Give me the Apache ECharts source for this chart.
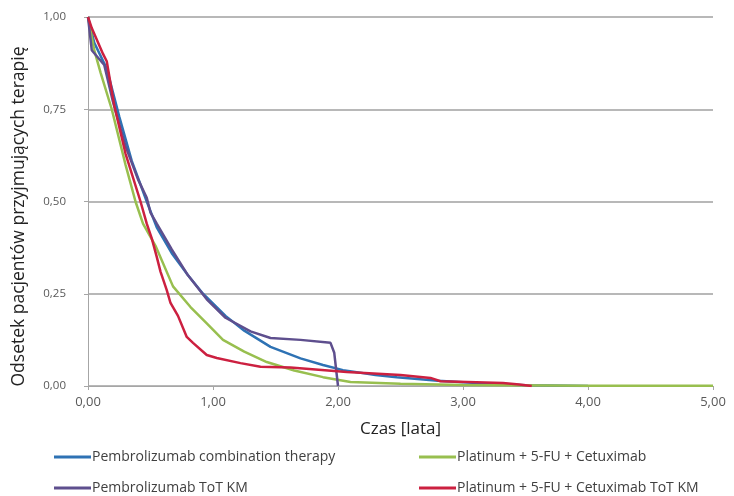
<!DOCTYPE html>
<html>
<head>
<meta charset="utf-8">
<script src="https://cdn.jsdelivr.net/npm/echarts@6/dist/echarts.min.js"></script>
<style>
  html, body { margin: 0; padding: 0; background: #fff; }
  #chart { width: 734px; height: 496px; }
</style>
</head>
<body>
<div id="chart"></div>
<script>
// dane (czas w latach, odsetek pacjentów)
var seriesNames = [
  'Pembrolizumab combination therapy',
  'Platinum + 5-FU + Cetuximab',
  'Pembrolizumab ToT KM',
  'Platinum + 5-FU + Cetuximab ToT KM'
];

var pembroX = [0, 0.05, 0.15, 0.25, 0.35, 0.47, 0.55, 0.67, 0.8, 0.92, 1.1, 1.25, 1.46, 1.7, 1.88, 2.04, 2.3, 2.47, 2.8, 3.0, 3.3, 3.5, 4.0];
var pembroY = [1, 0.93, 0.86, 0.73, 0.61, 0.50, 0.43, 0.36, 0.30, 0.25, 0.19, 0.15, 0.106, 0.075, 0.057, 0.043, 0.03, 0.024, 0.014, 0.01, 0.005, 0.002, 0];

var platX = [0, 0.05, 0.1, 0.19, 0.3, 0.38, 0.44, 0.54, 0.68, 0.82, 0.95, 1.08, 1.25, 1.43, 1.65, 1.88, 2.1, 2.5, 3.0, 4.0, 5.0];
var platY = [1, 0.91, 0.85, 0.75, 0.60, 0.50, 0.44, 0.38, 0.27, 0.214, 0.17, 0.125, 0.093, 0.065, 0.042, 0.024, 0.011, 0.006, 0.003, 0.001, 0.001];

var pembroKmX = [0, 0.03, 0.13, 0.2, 0.3, 0.4, 0.47, 0.5, 0.55, 0.67, 0.8, 0.95, 1.1, 1.3, 1.46, 1.7, 1.94, 1.97, 2.0];
var pembroKmY = [1, 0.91, 0.87, 0.77, 0.65, 0.56, 0.51, 0.47, 0.44, 0.37, 0.30, 0.235, 0.185, 0.148, 0.13, 0.125, 0.117, 0.09, 0];

var platKmX = [0, 0.03, 0.12, 0.15, 0.21, 0.3, 0.42, 0.47, 0.51, 0.55, 0.58, 0.63, 0.66, 0.72, 0.79, 0.84, 0.95, 1.03, 1.22, 1.38, 1.62, 2.07, 2.5, 2.74, 2.82, 3.32, 3.45, 3.55];
var platKmY = [1, 0.97, 0.90, 0.88, 0.76, 0.63, 0.50, 0.44, 0.40, 0.35, 0.31, 0.26, 0.225, 0.19, 0.133, 0.117, 0.084, 0.076, 0.062, 0.052, 0.05, 0.038, 0.03, 0.022, 0.013, 0.008, 0.004, 0];

var xTicks = [0, 1, 2, 3, 4, 5];
var yTicks = [0, 0.25, 0.5, 0.75, 1];

function pairs(xs, ys) {
  return xs.map(function (x, i) { return [x, ys[i]]; });
}
function fmt(v) {
  return v.toFixed(2).replace('.', ',');
}

var chart = echarts.init(document.getElementById('chart'));

var colors = ['#2e72b4', '#98bf4f', '#5e4f8e', '#cc2040'];
var lineData = [pairs(pembroX, pembroY), pairs(platX, platY), pairs(pembroKmX, pembroKmY), pairs(platKmX, platKmY)];

var legendPos = [
  { left: 52, top: 448 },
  { left: 417, top: 448 },
  { left: 52, top: 479 },
  { left: 417, top: 479 }
];

var option = {
  animation: false,
  backgroundColor: '#fff',
  grid: { left: 88, right: 21, top: 17, bottom: 110 },
  // każdy wpis legendy osobno, żeby ustawić dwie kolumny
  legend: seriesNames.map(function (n, i) {
    return {
      data: [n],
      left: legendPos[i].left,
      top: legendPos[i].top,
      padding: 2,
      icon: 'rect',
      itemWidth: 37,
      itemHeight: 3,
      textStyle: { fontFamily: 'Open Sans', fontSize: 14, color: '#404040', padding: [0, 0, 0, -4] }
    };
  }),
  xAxis: {
    type: 'value',
    min: 0, max: 5, interval: 1,
    name: 'Czas [lata]',
    nameLocation: 'middle',
    nameGap: 35,
    nameTextStyle: { fontFamily: 'Open Sans', fontSize: 17, color: '#222' },
    axisLine: { show: true, lineStyle: { color: '#a6a6a6', width: 1 } },
    axisTick: { show: true, length: 4, lineStyle: { color: '#a6a6a6' } },
    axisLabel: { formatter: fmt, fontFamily: 'Open Sans', fontSize: 13, color: '#595959', margin: 10 },
    splitLine: { show: false }
  },
  yAxis: {
    type: 'value',
    min: 0, max: 1, interval: 0.25,
    name: 'Odsetek pacjentów przyjmujących terapię',
    nameLocation: 'middle',
    nameGap: 60,
    nameTextStyle: { fontFamily: 'Open Sans', fontSize: 17.5, color: '#222', padding: [0, 30, 0, 0] },
    axisLine: { show: true, lineStyle: { color: '#a6a6a6', width: 1 } },
    axisTick: { show: true, length: 4, lineStyle: { color: '#a6a6a6' } },
    axisLabel: { formatter: fmt, fontFamily: 'Open Sans', fontSize: 11.5, color: '#595959', margin: 22 },
    splitLine: { show: true, lineStyle: { color: '#b8b8b8', width: 2 } }
  },
  series: seriesNames.map(function (n, i) {
    return {
      name: n,
      type: 'line',
      data: lineData[i],
      showSymbol: false,
      smooth: false,
      color: colors[i],
      lineStyle: { width: 2.5, color: colors[i] }
    };
  })
};

chart.setOption(option);
</script>
</body>
</html>
